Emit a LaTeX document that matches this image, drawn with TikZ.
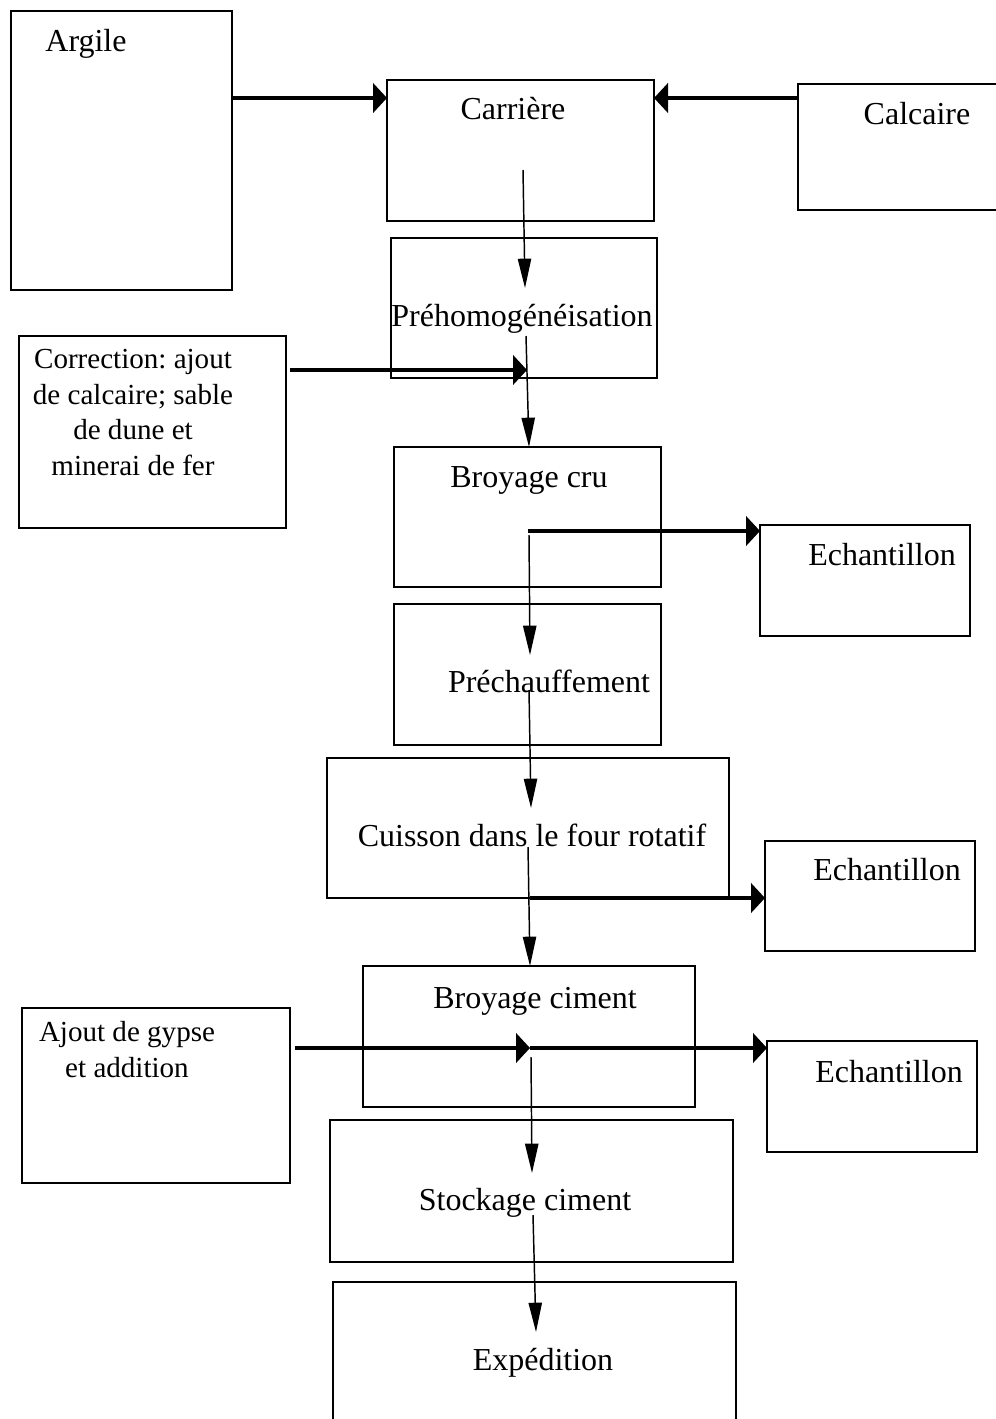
\documentclass[tikz,border=0pt]{standalone}
\usepackage{fontspec}
\setmainfont{Liberation Serif}
\usetikzlibrary{arrows.meta,calc}
\frenchspacing
\begin{document}
\begin{tikzpicture}[x=0.75pt,y=-0.75pt,
  box/.style={draw,line width=1.5pt,inner sep=0pt,outer sep=0pt},
  txt/.style={inner sep=0pt,anchor=base,font=\fontsize{24}{28}\selectfont},
  smalltxt/.style={inner sep=0pt,anchor=base,align=center,font=\fontsize{21.8}{26.7}\selectfont},
  thin/.style={line width=1.1pt,-{Triangle[length=22pt,width=10pt]}},
  thk/.style={line width=2.6pt,-{Triangle[length=10.5pt,width=22pt]}}]
\useasboundingbox (0,0) rectangle (995,1419);
% boxes
\node[box,minimum width={221*0.75pt},minimum height={279*0.75pt}] (argile) at (121.5,150.5) {};
\node[box,minimum width={267*0.75pt},minimum height={141*0.75pt}] (carr) at (520.5,150.5) {};
\node[box,minimum width={210*0.75pt},minimum height={126*0.75pt}] (calc) at (903,147) {};
\node[box,minimum width={266*0.75pt},minimum height={140*0.75pt}] (prehom) at (524,308) {};
\node[box,minimum width={267*0.75pt},minimum height={192*0.75pt}] (corr) at (152.5,432) {};
\node[box,minimum width={267*0.75pt},minimum height={140*0.75pt}] (bcru) at (527.5,517) {};
\node[box,minimum width={210*0.75pt},minimum height={111*0.75pt}] (ech1) at (865,580.5) {};
\node[box,minimum width={267*0.75pt},minimum height={141*0.75pt}] (prech) at (527.5,674.5) {};
\node[box,minimum width={402*0.75pt},minimum height={140*0.75pt}] (cuis) at (528,828) {};
\node[box,minimum width={210*0.75pt},minimum height={110*0.75pt}] (ech2) at (870,896) {};
\node[box,minimum width={332*0.75pt},minimum height={141*0.75pt}] (bcim) at (529,1036.5) {};
\node[box,minimum width={268*0.75pt},minimum height={175*0.75pt}] (gypse) at (156,1095.5) {};
\node[box,minimum width={210*0.75pt},minimum height={111*0.75pt}] (ech3) at (872,1096.5) {};
\node[box,minimum width={403*0.75pt},minimum height={142*0.75pt}] (stock) at (531.5,1191) {};
\node[box,minimum width={403*0.75pt},minimum height={160*0.75pt}] (exp) at (534.5,1362) {};
% texts
\node[txt] (targile) at (86,52) {Argile};
\node[txt] (tcarr) at (513,120) {Carrière};
\node[txt] (tcalc) at (917,125) {Calcaire};
\node[txt] (tprehom) at (522,326) {Préhomogénéisation};
\node[smalltxt,anchor=north] (tcorr) at (133,349) {Correction: ajout\\de calcaire; sable\\de dune et\\minerai de fer};
\node[txt] (tbcru) at (529,487) {Broyage cru};
\node[txt] (tech1) at (882,565) {Echantillon};
\node[txt] (tprech) at (549,692) {Préchauffement};
\node[txt] (tcuis) at (532,846) {Cuisson dans le four rotatif};
\node[txt] (tech2) at (887,880) {Echantillon};
\node[txt] (tbcim) at (535,1008) {Broyage ciment};
\node[smalltxt,anchor=north] (tgypse) at (127,1021) {Ajout de gypse\\et addition};
\node[txt] (tech3) at (889,1082) {Echantillon};
\node[txt] (tstock) at (525,1210) {Stockage ciment};
\node[txt] (texp) at (543,1370) {Expédition};
% connectors
\draw[thk] ($(argile.north east)+(0,87)$) -- ($(carr.north west)+(0,18)$);
\draw[thk] ($(calc.north west)+(0,14)$) -- ($(carr.north east)+(0,18)$);
\draw[thin] ($(carr.north)+(2.5,90)$) -- ($(prehom.north)+(1,50)$);
\draw[thk] ($(corr.north east)+(4,34)$) -- ($(prehom.south)+(3,-8)$);
\draw[thin] ($(prehom.north)+(2,98)$) -- ($(bcru.north)+(1.5,0)$);
\draw[thk] ($(bcru.center)+(0,14)$) -- ($(ech1.north west)+(0,6)$);
\draw[thin] ($(bcru.center)+(1.5,18)$) -- ($(prech.north)+(2.5,51)$);
\draw[thin] ($(prech.north)+(1.5,86)$) -- ($(cuis.north)+(3,50)$);
\draw[thin] ($(cuis.north)+(0,89)$) -- ($(bcim.north)+(1,0)$);
\draw[thk] ($(cuis.south)+(2,0)$) -- ($(ech2.north west)+(0,57)$);
\draw[thk] ($(gypse.north east)+(5,40)$) -- ($(bcim.north)+(1,82)$);
\draw[thk] ($(bcim.north)+(1,82)$) -- ($(ech3.north west)+(0,7)$);
\draw[thin] ($(bcim.north)+(2,91)$) -- ($(stock.north)+(0.5,53)$);
\draw[thin] ($(stock.north)+(1.5,95)$) -- ($(exp.north)+(1.5,50)$);
\end{tikzpicture}
\end{document}
